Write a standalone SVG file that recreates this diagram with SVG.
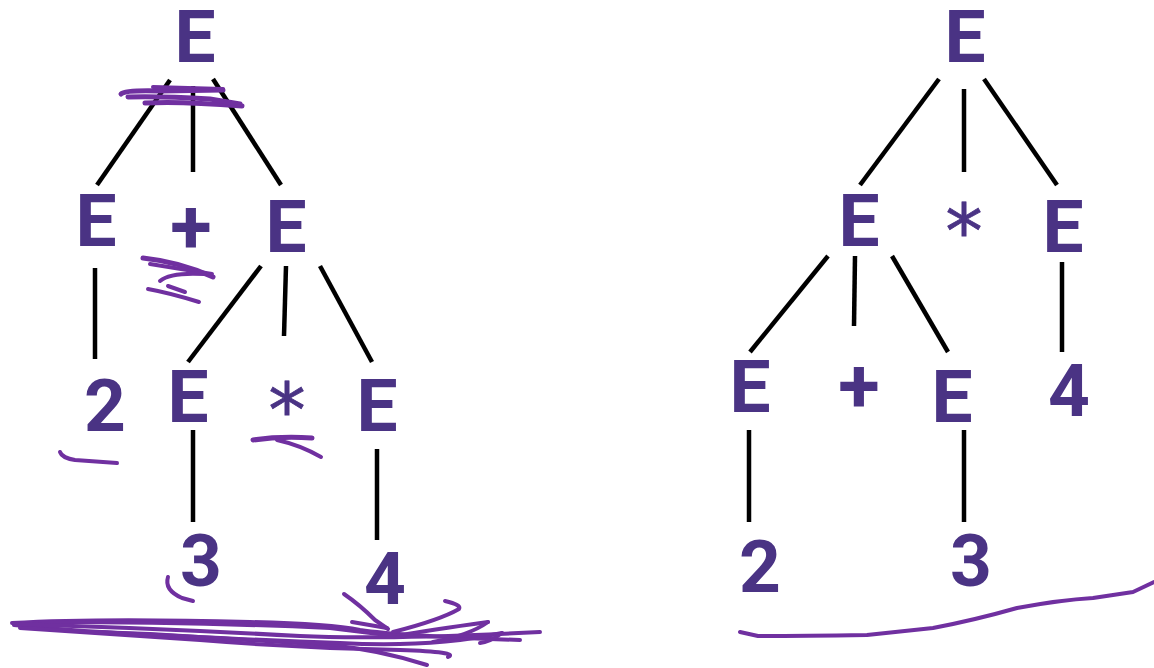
<svg xmlns="http://www.w3.org/2000/svg" width="1154" height="668" viewBox="0 0 1154 668">
<style>
.t{font-family:Roboto,"Liberation Sans",sans-serif;font-weight:700;font-size:73px;fill:#4a3384;text-anchor:middle}
.plus{font-family:Roboto,"Liberation Sans",sans-serif;font-weight:700;font-size:76px;fill:#4a3384;text-anchor:middle}
.star{font-family:"DejaVu Sans",sans-serif;font-weight:400;font-size:74px;fill:#4a3384;text-anchor:middle;stroke:#4a3384;stroke-width:0.8}
.c line{stroke:#000;stroke-width:4.5}
.ink{fill:none;stroke:#7030a0;stroke-width:4;stroke-linecap:round;stroke-linejoin:round}
</style>
<rect width="1154" height="668" fill="#fff"/>
<g id="connectors" class="c">
<line x1="170" y1="80" x2="97" y2="185"/>
<line x1="193" y1="86" x2="193" y2="172"/>
<line x1="213" y1="79" x2="281" y2="185"/>
<line x1="95" y1="268" x2="95" y2="359"/>
<line x1="261" y1="266" x2="188" y2="362"/>
<line x1="286" y1="266" x2="284" y2="336"/>
<line x1="320" y1="266" x2="372" y2="362"/>
<line x1="193" y1="430" x2="193" y2="522"/>
<line x1="377" y1="449" x2="377" y2="540"/>
<line x1="939" y1="79" x2="860" y2="185"/>
<line x1="964" y1="89" x2="964" y2="172"/>
<line x1="984" y1="79" x2="1057" y2="185"/>
<line x1="828" y1="256" x2="750" y2="352"/>
<line x1="855" y1="256" x2="854" y2="326"/>
<line x1="892" y1="256" x2="948" y2="352"/>
<line x1="1062" y1="262" x2="1062" y2="352"/>
<line x1="749" y1="430" x2="749" y2="522"/>
<line x1="964" y1="430" x2="964" y2="522"/>
</g>
<g id="left-root"><text class="t" x="195" y="62">E</text></g>
<g id="left-e1"><text class="t" x="96" y="246">E</text></g>
<g id="left-plus"><text class="plus" x="191" y="253">+</text></g>
<g id="left-e2"><text class="t" x="286" y="252">E</text></g>
<g id="left-2"><text class="t" x="105" y="431">2</text></g>
<g id="left-e3"><text class="t" x="188" y="422">E</text></g>
<g id="left-star"><text class="star" x="287" y="436">*</text></g>
<g id="left-e4"><text class="t" x="377" y="431">E</text></g>
<g id="left-3"><text class="t" x="201" y="586">3</text></g>
<g id="left-4"><text class="t" x="385" y="604">4</text></g>
<g id="right-root"><text class="t" x="965" y="62">E</text></g>
<g id="right-e1"><text class="t" x="859" y="246">E</text></g>
<g id="right-star"><text class="star" x="964" y="257">*</text></g>
<g id="right-e2"><text class="t" x="1063" y="252">E</text></g>
<g id="right-e3"><text class="t" x="750" y="412">E</text></g>
<g id="right-plus"><text class="plus" x="859" y="412">+</text></g>
<g id="right-e4"><text class="t" x="952" y="422">E</text></g>
<g id="right-4"><text class="t" x="1069" y="416">4</text></g>
<g id="right-2"><text class="t" x="760" y="592">2</text></g>
<g id="right-3"><text class="t" x="971" y="586">3</text></g>
<g id="annotations" class="ink">
<path d="M121 94 Q125 90 160 91 L223 90" stroke-width="5"/>
<path d="M153 87 L223 89"/>
<path d="M145 103 Q180 101 242 106" stroke-width="5"/>
<path d="M128 97 Q160 96 210 99 L240 104" stroke-width="5"/>
<path d="M143 258 Q180 262 213 277" stroke-width="5"/>
<path d="M150 264 L212 274"/>
<path d="M160 281 Q170 272 205 274"/>
<path d="M148 289 Q170 293 199 302"/>
<path d="M168 286 L185 292"/>
<path d="M60 452 Q62 458 75 460 L117 463"/>
<path d="M253 440 Q280 436 312 438" stroke-width="5"/>
<path d="M277 440 Q300 445 321 457"/>
<path d="M168 577 Q164 590 182 598 L193 601"/>
<path d="M12 623 Q100 618 250 622 Q330 624 360 630 Q400 636 520 640"/>
<path d="M14 625 Q80 632 150 634 Q250 640 330 645 Q380 650 427 665"/>
<path d="M20 628 Q120 635 200 640 Q300 648 400 650 Q460 652 448 657"/>
<path d="M40 622 Q200 622 330 628 Q370 633 395 636 Q430 630 488 622"/>
<path d="M100 632 Q250 640 340 643 Q430 648 502 633"/>
<path d="M15 624 Q150 628 300 636 Q380 640 540 632"/>
<path d="M344 594 Q360 605 375 620 L388 629"/>
<path d="M352 622 L387 628"/>
<path d="M445 601 Q462 605 459 609 Q440 620 393 632"/>
<path d="M488 622 Q470 635 433 642"/>
<path d="M502 633 Q490 642 480 643"/>
<path d="M740 632 L758 636 Q800 636 867 635 L933 628 Q975 620 1017 608 Q1060 600 1093 598 L1133 592 L1154 582"/>
</g>
</svg>
